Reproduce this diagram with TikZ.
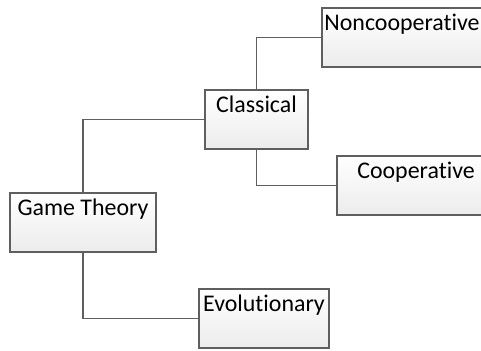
\documentclass[tikz,border=0pt]{standalone}
\usepackage{fontspec}
\setmainfont{Carlito}[Ligatures=NoCommon]
\usepackage{xcolor}
\usetikzlibrary{shadows}
\definecolor{boxline}{RGB}{95, 95, 95}
\definecolor{boxfill}{RGB}{236, 236, 236}

\begin{document}
\begin{tikzpicture}[
    box/.style={draw=boxline, line width=1pt, top color=white, bottom color=boxfill, inner sep=0pt, minimum height=1.77cm, text height=0.66cm, text depth=1.11cm, align=center, font=\fontsize{20.4}{24}\selectfont, drop shadow={opacity=0.2, shadow xshift=0.8pt, shadow yshift=-0.8pt}},
    link/.style={draw=boxline, line width=1pt},
]
    \useasboundingbox (0,0) rectangle (14.43,-10.5);
    \node[box, minimum width=4.38cm] (game) at (2.49,-6.675) {Game Theory};
    \node[box, minimum width=3.09cm] (classical) at (7.695,-3.585) {Classical};
    \node[box, minimum width=4.8cm] (noncoop) at (12.06,-1.125) {Noncooperative};
    \node[box, minimum width=4.74cm] (coop) at (12.48,-5.565) {Cooperative};
    \node[box, minimum width=3.9cm] (evol) at (7.92,-9.555) {Evolutionary};

    \draw[link] (game.north) |- (classical.west);
    \draw[link] (game.south) |- (evol.west);
    \draw[link] (classical.north) |- (noncoop.west);
    \draw[link] (classical.south) |- (coop.west);
\end{tikzpicture}
\end{document}
